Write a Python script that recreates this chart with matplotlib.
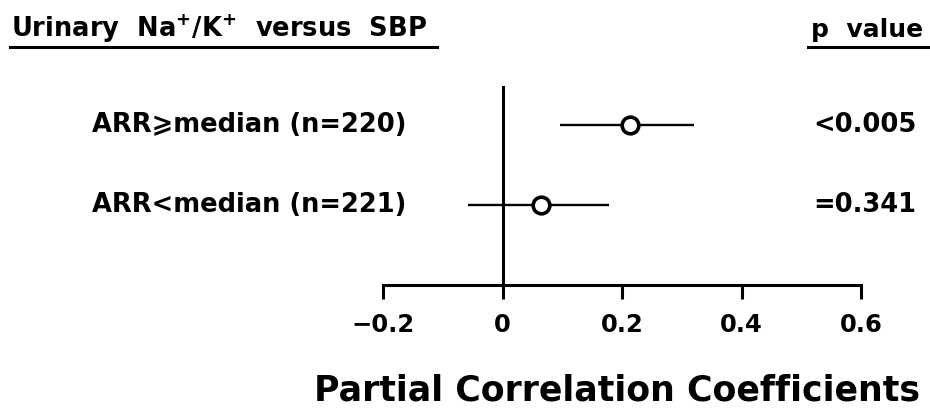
import matplotlib
matplotlib.use("Agg")
import matplotlib.pyplot as plt
from matplotlib.transforms import blended_transform_factory
from matplotlib.lines import Line2D

plt.rcParams['font.family'] = ['DejaVu Sans']
plt.rcParams['mathtext.fontset'] = 'dejavusans'

# Data
groups = ["ARR\u2A7Emedian (n=220)", "ARR<median (n=221)"]
coef = [0.214, 0.064]
ci_low = [0.097, -0.057]
ci_high = [0.321, 0.179]
p_values = ["<0.005", "=0.341"]
xticks = [-0.2, 0, 0.2, 0.4, 0.6]
xticklabels = ["\u22120.2", "0", "0.2", "0.4", "0.6"]

W, H = 930, 412
fig = plt.figure(figsize=(W / 100, H / 100), dpi=100)

def fx(px):
    return px / W

def fy(py):
    return 1 - py / H

ax = fig.add_axes([fx(383), fy(285), fx(861) - fx(383), fy(86) - fy(285)])
ax.set_xlim(-0.2, 0.6)
ax.set_ylim(0, 2.49)

ypos = [2, 1]
for y, c, lo, hi in zip(ypos, coef, ci_low, ci_high):
    ax.plot([lo, hi], [y, y], color='black', lw=1.7, solid_capstyle='butt', zorder=2)
    ax.plot([c], [y], marker='o', ms=12, mew=2.6, mfc='white', mec='black',
            linestyle='none', zorder=3)

ax.axvline(0, color='black', lw=2.2, zorder=1)

for s in ['top', 'right', 'left']:
    ax.spines[s].set_visible(False)
ax.spines['bottom'].set_linewidth(2.2)
ax.spines['bottom'].set_bounds(-0.2, 0.6)
ax.set_yticks([])
ax.set_xticks(xticks)
ax.set_xticklabels(xticklabels, fontsize=17.5, fontweight='bold')
ax.tick_params(axis='x', direction='out', length=10, width=2.2, pad=10)
ax.patch.set_visible(False)

ax.set_xlabel("Partial Correlation Coefficients", fontsize=25, fontweight='bold')
ax.xaxis.set_label_coords((617 - 383) / (861 - 383), -0.445)

# Group labels and p values on rows
tr = blended_transform_factory(fig.transFigure, ax.transData)
for y, g, p in zip(ypos, groups, p_values):
    fig.text(fx(92), y, g, transform=tr, ha='left', va='center', fontsize=18.5,
             fontweight='bold')
    fig.text(fx(916), y, p, transform=tr, ha='right', va='center', fontsize=18.5,
             fontweight='bold')

# Column headers with underlines
fig.text(fx(11), fy(37), r"Urinary  Na$^{\mathbf{+}}$/K$^{\mathbf{+}}$  versus  SBP",
         ha='left', va='baseline', fontsize=18.5, fontweight='bold')
fig.text(fx(811), fy(37), "p  value", ha='left', va='baseline', fontsize=18,
         fontweight='bold')
fig.add_artist(Line2D([fx(10), fx(437)], [fy(47), fy(47)], color='black', lw=2.2,
                      transform=fig.transFigure))
fig.add_artist(Line2D([fx(808), fx(930)], [fy(47), fy(47)], color='black', lw=2.2,
                      transform=fig.transFigure))

fig.savefig("out.png", dpi=100, facecolor='white')
